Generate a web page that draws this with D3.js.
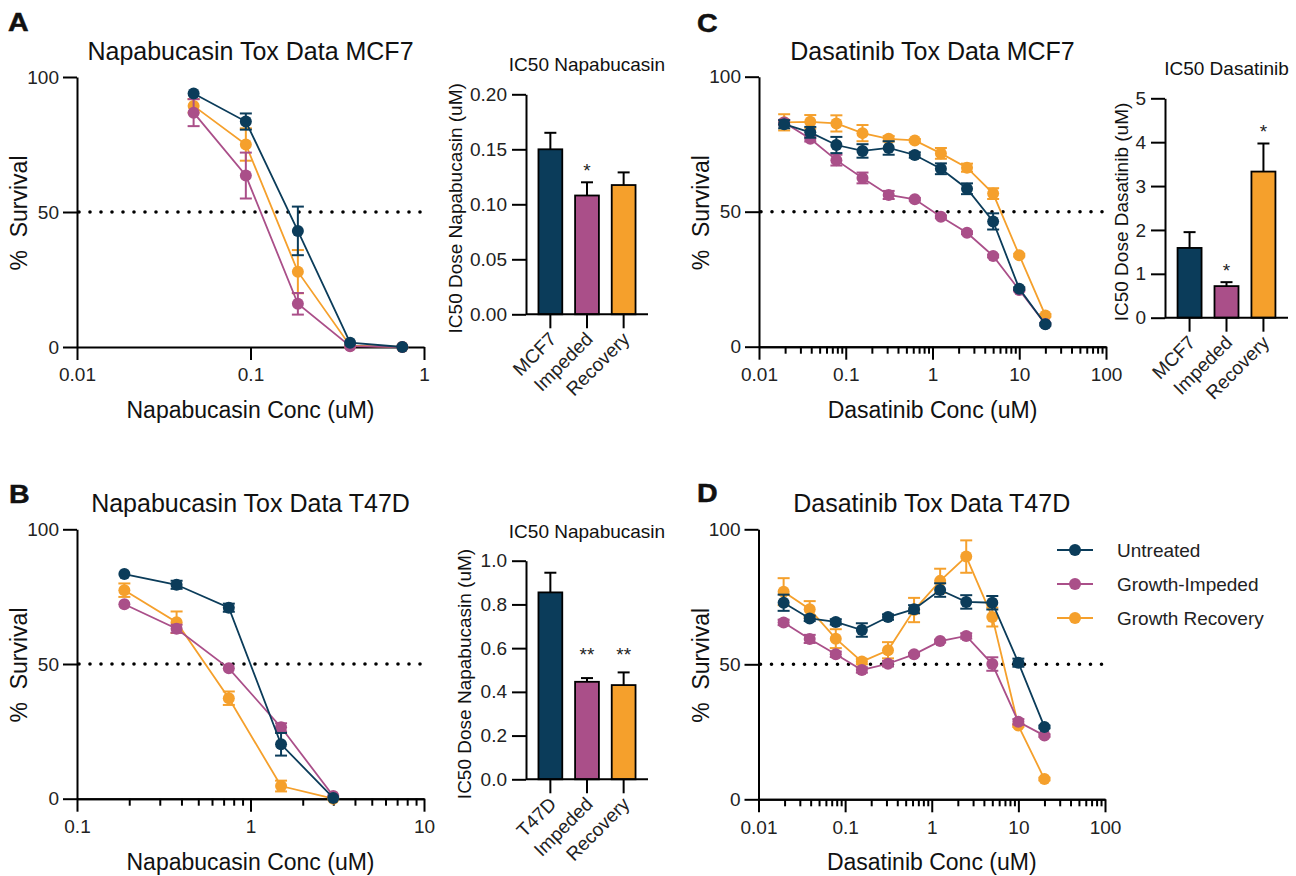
<!DOCTYPE html>
<html>
<head>
<meta charset="utf-8">
<script src="https://cdn.jsdelivr.net/npm/d3@7"></script>
<style>
  body { margin: 0; background: #fff; }
  svg { font-family: "Liberation Sans", Arial, sans-serif; }
  .axis path, .axis line { stroke: #000; stroke-width: 2; }
  .axis text { fill: #222; font-size: 19px; }
</style>
</head>
<body>
<svg id="fig" width="1296" height="876"></svg>
<script>

// ---- data ----
var seriesNames = ["Untreated", "Growth-Impeded", "Growth Recovery"]

// A: Napabucasin, MCF7
var napaDosesMCF7 = [0.047, 0.094, 0.1875, 0.375, 0.75]
var napaMCF7Untreated = [93.9, 83.5, 43.0, 1.6, 0]
var napaMCF7UntreatedErr = [0, 3, 9, 0, 0]
var napaMCF7Impeded = [86.8, 63.5, 16.0, 0.3, 0]
var napaMCF7ImpededErr = [5, 8.5, 4, 0, 0]
var napaMCF7Recovery = [89.3, 75.0, 27.9, 0.5, 0]
var napaMCF7RecoveryErr = [2.5, 6, 8, 0, 0]

// B: Napabucasin, T47D
var napaDosesT47D = [0.1875, 0.375, 0.75, 1.5, 3]
var napaT47DUntreated = [83.4, 79.4, 70.9, 20.2, 0.3]
var napaT47DUntreatedErr = [0, 1.5, 1.5, 4.2, 0]
var napaT47DImpeded = [72.2, 63.1, 48.4, 26.5, 1]
var napaT47DImpededErr = [0, 1.5, 0, 1.5, 0]
var napaT47DRecovery = [77.4, 65.5, 37.3, 4.7, 0]
var napaT47DRecoveryErr = [2.5, 4, 2.5, 2, 0]

// C, D: Dasatinib
var dasaDoses = [0.0195, 0.039, 0.078, 0.156, 0.3125, 0.625, 1.25, 2.5, 5, 10, 20]
var dasaMCF7Untreated = [82.4, 79.4, 74.7, 72.5, 73.6, 71.0, 65.9, 58.5, 46.4, 21.5, 8.3]
var dasaMCF7UntreatedErr = [1.5, 2, 3, 2.5, 2.5, 1, 2, 2, 3, 0.5, 0.5]
var dasaMCF7Impeded = [83.0, 77.0, 69.1, 62.5, 56.2, 54.6, 48.1, 42.2, 33.6, 21.0, 8.4]
var dasaMCF7ImpededErr = [1, 1, 2, 2, 1.5, 0.5, 0.5, 0.5, 0.5, 0.5, 0]
var dasaMCF7Recovery = [83.1, 83.3, 82.7, 79.1, 77.0, 76.4, 71.6, 66.3, 56.7, 33.9, 11.6]
var dasaMCF7RecoveryErr = [3, 2.5, 3, 3, 1, 0.5, 2, 1.5, 2, 0.5, 0.5]

var dasaT47DUntreated = [72.8, 67.0, 65.7, 62.7, 67.5, 70.4, 77.5, 73.1, 72.8, 50.6, 26.8]
var dasaT47DUntreatedErr = [3, 1, 1, 2.5, 1, 1.5, 2.5, 2.5, 2.5, 1.5, 0.5]
var dasaT47DImpeded = [65.5, 59.4, 53.7, 47.9, 50.2, 53.7, 58.6, 60.5, 50.1, 28.7, 23.6]
var dasaT47DImpededErr = [1, 1.5, 1, 1, 1, 0.5, 0.5, 1, 2.5, 1, 0.5]
var dasaT47DRecovery = [76.9, 70.4, 59.5, 51.0, 55.2, 70.1, 80.9, 89.9, 67.5, 27.3, 7.5]
var dasaT47DRecoveryErr = [5, 3, 3.5, 1, 3, 4.5, 4.5, 6, 3.5, 0.5, 0.5]

// IC50 bars
var ic50NapaMCF7Cats = ["MCF7", "Impeded", "Recovery"]
var ic50NapaMCF7 = [0.150, 0.108, 0.1175]
var ic50NapaMCF7Err = [0.015, 0.012, 0.0115]
var ic50NapaMCF7Sig = ["", "*", ""]

var ic50NapaT47DCats = ["T47D", "Impeded", "Recovery"]
var ic50NapaT47D = [0.855, 0.446, 0.431]
var ic50NapaT47DErr = [0.09, 0.017, 0.058]
var ic50NapaT47DSig = ["", "**", "**"]

var ic50DasaMCF7Cats = ["MCF7", "Impeded", "Recovery"]
var ic50DasaMCF7 = [1.59, 0.72, 3.33]
var ic50DasaMCF7Err = [0.36, 0.09, 0.64]
var ic50DasaMCF7Sig = ["", "*", "*"]

var colors = ["#0b3c5a", "#aa4f89", "#f5a02c"]   // untreated, impeded, recovery

var svg = d3.select("#fig")

function lineChart(o) {
    var x = d3.scaleLog().domain(o.xDomain).range([o.left, o.right])
    var y = d3.scaleLinear().domain([0, 100]).range([o.bottom, o.top])
    var g = svg.append("g")

    if (o.minor) {
        var minors = []
        for (var e = Math.log10(o.xDomain[0]); e < Math.log10(o.xDomain[1]); e++)
            for (var k = 2; k < 10; k++) minors.push(k * Math.pow(10, e))
        g.append("g").attr("class", "axis")
            .attr("transform", "translate(0," + o.bottom + ")")
            .call(d3.axisBottom(x).tickValues(minors).tickSize(7).tickSizeOuter(0).tickFormat(""))
    }
    g.append("g").attr("class", "axis")
        .attr("transform", "translate(0," + o.bottom + ")")
        .call(d3.axisBottom(x).tickValues(o.xTicks).tickSize(13).tickSizeOuter(0)
            .tickPadding(8).tickFormat(d3.format("~g")))
    g.append("g").attr("class", "axis")
        .attr("transform", "translate(" + o.left + ",0)")
        .call(d3.axisLeft(y).tickValues([0, 50, 100]).tickSize(14).tickSizeOuter(0).tickPadding(4))
    g.selectAll(".axis").attr("font-size", null).attr("font-family", null)

    // 50% line
    g.append("line")
        .attr("x1", o.left + 2).attr("x2", o.right - 3)
        .attr("y1", y(50)).attr("y2", y(50))
        .attr("stroke", "#000").attr("stroke-width", 3.6)
        .attr("stroke-linecap", "round").attr("stroke-dasharray", "0 11")

    var line = d3.line().x(d => x(d[0])).y(d => y(d[1]))

    // draw recovery, impeded, then untreated on top
    ;[2, 1, 0].forEach(function (s) {
        var vals = o.series[s], errs = o.errors[s], col = colors[s]
        var pts = o.doses.map((d, i) => [d, vals[i], errs[i]])
        var sg = g.append("g")
        pts.filter(p => p[2] > 0).forEach(function (p) {
            var cx = x(p[0]), y1 = y(p[1] + p[2]), y2 = y(Math.max(0, p[1] - p[2]))
            sg.append("line").attr("x1", cx).attr("x2", cx).attr("y1", y1).attr("y2", y2)
                .attr("stroke", col).attr("stroke-width", 2)
            ;[y1, y2].forEach(function (yy) {
                sg.append("line").attr("x1", cx - 6).attr("x2", cx + 6).attr("y1", yy).attr("y2", yy)
                    .attr("stroke", col).attr("stroke-width", 2)
            })
        })
        sg.append("path").datum(pts).attr("d", line)
            .attr("fill", "none").attr("stroke", col).attr("stroke-width", 1.8)
        sg.selectAll("circle").data(pts).enter().append("circle")
            .attr("cx", d => x(d[0])).attr("cy", d => y(d[1])).attr("r", 6)
            .attr("fill", col)
    })

    var midX = (o.left + o.right) / 2
    g.append("text").attr("x", midX).attr("y", o.top - 17)
        .attr("text-anchor", "middle").attr("font-size", 25).attr("fill", "#111").text(o.title)
    g.append("text").attr("x", midX).attr("y", o.bottom + 71)
        .attr("text-anchor", "middle").attr("font-size", 23).attr("fill", "#111").text(o.xTitle)
    g.append("text")
        .attr("transform", "translate(" + (o.left - 50) + "," + ((o.top + o.bottom) / 2 + 1) + ") rotate(-90)")
        .attr("text-anchor", "middle").attr("font-size", 23).attr("fill", "#111")
        .attr("xml:space", "preserve").text("%  Survival")
}

function barChart(o) {
    var x = d3.scaleBand().domain(o.cats).range([o.left, o.right])
        .paddingInner(0.35).paddingOuter(0.34)
    var y = d3.scaleLinear().domain(o.yDomain).range([o.bottom, o.top])
    var g = svg.append("g")

    var data = o.cats.map((c, i) => ({ c: c, v: o.values[i], e: o.errors[i], s: o.sig[i], col: colors[i] }))

    // error bars (upper only)
    data.forEach(function (d) {
        var cx = x(d.c) + x.bandwidth() / 2
        g.append("line").attr("x1", cx).attr("x2", cx).attr("y1", y(d.v)).attr("y2", y(d.v + d.e))
            .attr("stroke", "#000").attr("stroke-width", 2)
        g.append("line").attr("x1", cx - 6).attr("x2", cx + 6).attr("y1", y(d.v + d.e)).attr("y2", y(d.v + d.e))
            .attr("stroke", "#000").attr("stroke-width", 2)
    })
    g.selectAll(".bar").data(data).enter().append("rect")
        .attr("x", d => x(d.c)).attr("width", x.bandwidth())
        .attr("y", d => y(d.v)).attr("height", d => o.bottom - y(d.v))
        .attr("fill", d => d.col).attr("stroke", "#000").attr("stroke-width", 1.8)

    var sigTop = d3.min(data.filter(d => d.s), d => y(d.v + d.e))
    data.filter(d => d.s).forEach(function (d) {
        var yy = o.alignSig ? sigTop : y(d.v + d.e)
        g.append("text").attr("x", x(d.c) + x.bandwidth() / 2).attr("y", yy - o.sigGap)
            .attr("text-anchor", "middle").attr("font-size", 19).attr("fill", "#222").text(d.s)
    })

    var xa = g.append("g").attr("class", "axis")
        .attr("transform", "translate(0," + o.bottom + ")")
        .call(d3.axisBottom(x).tickSize(14).tickSizeOuter(0))
    xa.selectAll("text")
        .attr("text-anchor", "end").attr("dy", null)
        .attr("transform", "translate(-5,14) rotate(-45)")
    g.append("g").attr("class", "axis")
        .attr("transform", "translate(" + o.left + ",0)")
        .call(d3.axisLeft(y).tickValues(o.yTicks).tickSize(14).tickSizeOuter(0)
            .tickPadding(5).tickFormat(d3.format(o.fmt)))
    g.selectAll(".axis").attr("font-size", null).attr("font-family", null)
    // extend x axis line to the right end
    xa.select(".domain").attr("d", "M" + o.left + ",0H" + o.right)

    g.append("text").attr("x", (o.left + o.right) / 2).attr("y", o.top - 23)
        .attr("text-anchor", "middle").attr("font-size", 19).attr("fill", "#111").text(o.title)
    g.append("text")
        .attr("transform", "translate(" + (o.left - o.titleOffset) + "," + ((o.top + o.bottom) / 2 + 4) + ") rotate(-90)")
        .attr("text-anchor", "middle").attr("font-size", 19).attr("fill", "#111").text(o.yTitle)
}

lineChart({
    left: 77, right: 424, top: 77, bottom: 347, xDomain: [0.01, 1], xTicks: [0.01, 0.1, 1], minor: false,
    doses: napaDosesMCF7,
    series: [napaMCF7Untreated, napaMCF7Impeded, napaMCF7Recovery],
    errors: [napaMCF7UntreatedErr, napaMCF7ImpededErr, napaMCF7RecoveryErr],
    title: "Napabucasin Tox Data MCF7", xTitle: "Napabucasin Conc (uM)"
})
lineChart({
    left: 77, right: 424, top: 529.3, bottom: 798.7, xDomain: [0.1, 10], xTicks: [0.1, 1, 10], minor: true,
    doses: napaDosesT47D,
    series: [napaT47DUntreated, napaT47DImpeded, napaT47DRecovery],
    errors: [napaT47DUntreatedErr, napaT47DImpededErr, napaT47DRecoveryErr],
    title: "Napabucasin Tox Data T47D", xTitle: "Napabucasin Conc (uM)"
})
lineChart({
    left: 759, right: 1106, top: 76.7, bottom: 346.7, xDomain: [0.01, 100], xTicks: [0.01, 0.1, 1, 10, 100], minor: true,
    doses: dasaDoses,
    series: [dasaMCF7Untreated, dasaMCF7Impeded, dasaMCF7Recovery],
    errors: [dasaMCF7UntreatedErr, dasaMCF7ImpededErr, dasaMCF7RecoveryErr],
    title: "Dasatinib Tox Data MCF7", xTitle: "Dasatinib Conc (uM)"
})
lineChart({
    left: 758.5, right: 1105, top: 529.3, bottom: 799.3, xDomain: [0.01, 100], xTicks: [0.01, 0.1, 1, 10, 100], minor: true,
    doses: dasaDoses,
    series: [dasaT47DUntreated, dasaT47DImpeded, dasaT47DRecovery],
    errors: [dasaT47DUntreatedErr, dasaT47DImpededErr, dasaT47DRecoveryErr],
    title: "Dasatinib Tox Data T47D", xTitle: "Dasatinib Conc (uM)"
})

barChart({
    left: 526, right: 648, top: 94.3, bottom: 314.3, yDomain: [0, 0.2], yTicks: [0, 0.05, 0.1, 0.15, 0.2], fmt: ".2f",
    cats: ic50NapaMCF7Cats, values: ic50NapaMCF7, errors: ic50NapaMCF7Err, sig: ic50NapaMCF7Sig,
    sigGap: 5, alignSig: false, titleOffset: 64,
    title: "IC50 Napabucasin", yTitle: "IC50 Dose Napabucasin (uM)"
})
barChart({
    left: 526, right: 648, top: 560.7, bottom: 779.3, yDomain: [0, 1], yTicks: [0, 0.2, 0.4, 0.6, 0.8, 1], fmt: ".1f",
    cats: ic50NapaT47DCats, values: ic50NapaT47D, errors: ic50NapaT47DErr, sig: ic50NapaT47DSig,
    sigGap: 11, alignSig: true, titleOffset: 55,
    title: "IC50 Napabucasin", yTitle: "IC50 Dose Napabucasin (uM)"
})
barChart({
    left: 1165, right: 1288, top: 98.3, bottom: 317.7, yDomain: [0, 5], yTicks: [0, 1, 2, 3, 4, 5], fmt: "d",
    cats: ic50DasaMCF7Cats, values: ic50DasaMCF7, errors: ic50DasaMCF7Err, sig: ic50DasaMCF7Sig,
    sigGap: 5, alignSig: false, titleOffset: 37,
    title: "IC50 Dasatinib", yTitle: "IC50 Dose Dasatinib (uM)"
})

// legend
var legend = svg.append("g")
seriesNames.forEach(function (name, i) {
    var ly = 550 + i * 34
    legend.append("line").attr("x1", 1057).attr("x2", 1093).attr("y1", ly).attr("y2", ly)
        .attr("stroke", colors[i]).attr("stroke-width", 1.8)
    legend.append("circle").attr("cx", 1075).attr("cy", ly).attr("r", 6).attr("fill", colors[i])
    legend.append("text").attr("x", 1117).attr("y", ly + 7).attr("font-size", 19).attr("fill", "#222").text(name)
})

// panel letters
;[["A", 8, 31], ["B", 9, 503], ["C", 697, 32], ["D", 697, 502]].forEach(function (p) {
    svg.append("text")
        .attr("transform", "translate(" + p[1] + "," + p[2] + ") scale(1.1,1)")
        .attr("font-size", 26).attr("font-weight", "bold").attr("fill", "#111")
        .attr("stroke", "#111").attr("stroke-width", 0.5).text(p[0])
})

</script>
</body>
</html>
